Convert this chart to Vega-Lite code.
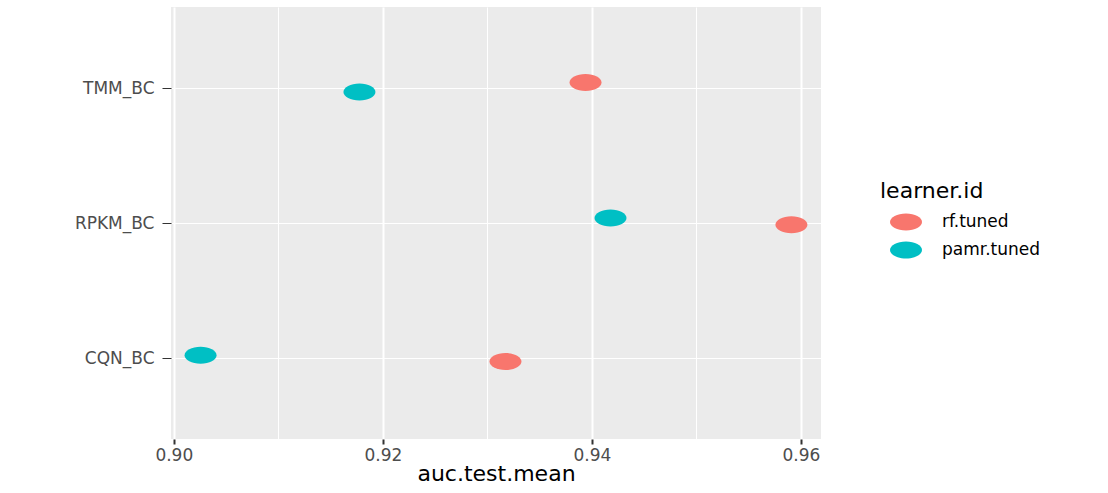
{
  "$schema": "https://vega.github.io/schema/vega-lite/v6.json",
  "width": 650,
  "height": 432,
  "autosize": {"type": "none"},
  "padding": {"left": 171, "top": 7, "right": 287, "bottom": 54},
  "background": "white",
  "config": {
    "view": {"fill": "#EBEBEB", "stroke": null},
    "font": "DejaVu Sans"
  },
  "data": {
    "values": [
      {"task": "TMM_BC", "learner": "rf.tuned", "auc": 0.93939, "row": 3.041},
      {"task": "TMM_BC", "learner": "pamr.tuned", "auc": 0.91776, "row": 2.970},
      {"task": "RPKM_BC", "learner": "pamr.tuned", "auc": 0.94178, "row": 2.037},
      {"task": "RPKM_BC", "learner": "rf.tuned", "auc": 0.95909, "row": 1.987},
      {"task": "CQN_BC", "learner": "pamr.tuned", "auc": 0.90256, "row": 1.021},
      {"task": "CQN_BC", "learner": "rf.tuned", "auc": 0.93173, "row": 0.974}
    ]
  },
  "resolve": {"axis": {"x": "independent"}},
  "layer": [
    {
      "mark": {"type": "point", "opacity": 0},
      "encoding": {
        "x": {
          "field": "auc",
          "type": "quantitative",
          "scale": {"domain": [0.89973, 0.96192], "nice": false, "zero": false},
          "axis": {
            "orient": "top",
            "values": [0.91, 0.93, 0.95],
            "grid": true,
            "gridColor": "white",
            "gridWidth": 1,
            "labels": false,
            "ticks": false,
            "domain": false,
            "title": null
          }
        }
      }
    },
    {
      "mark": {
        "type": "point",
        "filled": true,
        "opacity": 1,
        "size": 1024,
        "shape": "M-1,0C-1,-0.2927,-0.5523,-0.53,0,-0.53C0.5523,-0.53,1,-0.2927,1,0C1,0.2927,0.5523,0.53,0,0.53C-0.5523,0.53,-1,0.2927,-1,0Z"
      },
      "encoding": {
        "x": {
          "field": "auc",
          "type": "quantitative",
          "scale": {"domain": [0.89973, 0.96192], "nice": false, "zero": false},
          "axis": {
            "orient": "bottom",
            "values": [0.90, 0.92, 0.94, 0.96],
            "format": ".2f",
            "grid": true,
            "gridColor": "white",
            "gridWidth": 2,
            "domain": false,
            "tickColor": "#333333",
            "tickSize": 5,
            "tickWidth": 2,
            "labelFontSize": 17,
            "labelColor": "#4D4D4D",
            "labelPadding": 3,
            "labelFlush": false,
            "labelOverlap": false,
            "title": "auc.test.mean",
            "titleFontSize": 22,
            "titleFontWeight": "normal",
            "titleColor": "#000000",
            "titlePadding": 0
          }
        },
        "y": {
          "field": "row",
          "type": "quantitative",
          "scale": {"domain": [0.4, 3.6], "nice": false, "zero": false},
          "axis": {
            "values": [1, 2, 3],
            "labelExpr": "datum.value == 3 ? 'TMM_BC' : datum.value == 2 ? 'RPKM_BC' : 'CQN_BC'",
            "grid": true,
            "gridColor": "white",
            "gridWidth": 1,
            "domain": false,
            "tickColor": "#333333",
            "tickSize": 9,
            "tickWidth": 1,
            "labelFontSize": 17,
            "labelColor": "#4D4D4D",
            "labelPadding": 8,
            "labelFlush": false,
            "labelOverlap": false,
            "title": null
          }
        },
        "color": {
          "field": "learner",
          "type": "nominal",
          "scale": {"domain": ["rf.tuned", "pamr.tuned"], "range": ["#F8766D", "#00BFC4"]},
          "legend": {
            "title": "learner.id",
            "orient": "none",
            "legendX": 709,
            "legendY": 174,
            "titleFontSize": 22,
            "titleFontWeight": "normal",
            "titleColor": "#000000",
            "titlePadding": 3,
            "labelFontSize": 17,
            "labelColor": "#000000",
            "symbolType": "M-1,0C-1,-0.2927,-0.5523,-0.53,0,-0.53C0.5523,-0.53,1,-0.2927,1,0C1,0.2927,0.5523,0.53,0,0.53C-0.5523,0.53,-1,0.2927,-1,0Z",
            "symbolSize": 1024,
            "symbolOffset": 10,
            "symbolOpacity": 1,
            "symbolStrokeWidth": 0,
            "labelOffset": 20,
            "rowPadding": 3
          }
        },
        "tooltip": [
          {"field": "task", "type": "nominal"},
          {"field": "learner", "type": "nominal", "title": "learner.id"},
          {"field": "auc", "type": "quantitative", "title": "auc.test.mean"}
        ]
      }
    }
  ]
}
